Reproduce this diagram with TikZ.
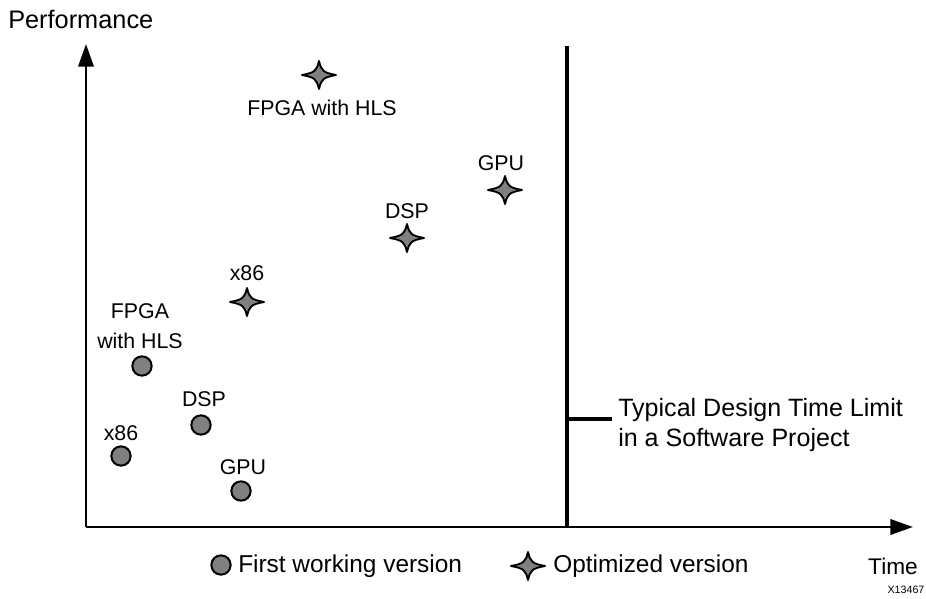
\documentclass[tikz,border=0pt]{standalone}
\usepackage{fontspec}
\setmainfont{Liberation Sans}
\usetikzlibrary{arrows.meta,positioning}

\begin{document}
\begin{tikzpicture}[
  x=0.75pt, y=-0.75pt,
  every node/.style={font=\fontsize{16}{22.5}\selectfont, inner sep=0pt},
  big/.style={font=\fontsize{18.3}{23}\selectfont},
  first/.style={circle, draw, fill=gray, line width=1.5pt, minimum size=14.5pt},
  lbl/.style={align=center},
  axis/.style={-{Triangle[length=17pt,width=11.5pt]}, line width=1.9pt},
  limit/.style={line width=2.5pt},
  optstar/.pic={
    \draw[fill=gray, line width=1.4pt, line join=round]
      (0,-14) .. controls (2.5,-4) and (4,-2.5) .. (17,0)
      .. controls (4,2.5) and (2.5,4) .. (0,14)
      .. controls (-2.5,4) and (-4,2.5) .. (-17,0)
      .. controls (-4,-2.5) and (-2.5,-4) .. cycle;
  }
]
  \useasboundingbox (0,0) rectangle (926,599);

  % Axes
  \coordinate (origin) at (86,527);
  \coordinate (ytop) at (86,44);
  \coordinate (xend) at (913,527);
  \draw[axis] (origin) -- (ytop);
  \draw[axis] (origin) -- (xend);
  \node[anchor=west, font=\fontsize{19}{23}\selectfont] (perf) at (8,19) {Performance};
  \node[font=\fontsize{17}{20}\selectfont] (time) at (893,566) {Time};
  \node[font=\fontsize{8}{9}\selectfont] (code) at (906,590) {X13467};

  % Design time limit
  \coordinate (ltop) at (567,46);
  \coordinate (lbot) at (567,527);
  \draw[limit] (ltop) -- (lbot);
  \coordinate (ltick) at (567,419);
  \node[anchor=west, align=left, font=\fontsize{18.8}{23}\selectfont] (limtxt) at (618,425)
    {Typical Design Time Limit\\in a Software Project};
  \draw[limit] (ltick) -- (612,419);

  % First working versions
  \node[first] (cFPGA) at (142,366) {};
  \node[first] (cDSP)  at (201,425) {};
  \node[first] (cX86)  at (121,456) {};
  \node[first] (cGPU)  at (241,491) {};
  \node[lbl] (tcFPGA) at (140,326) {FPGA\\with HLS};
  \node[lbl] (tcDSP)  at (204,399) {DSP};
  \node[lbl] (tcX86)  at (121,433) {x86};
  \node[lbl] (tcGPU)  at (243,467) {GPU};

  % Optimized versions
  \pic (sFPGA) at (319,75)  {optstar};
  \pic (sGPU)  at (505,190) {optstar};
  \pic (sDSP)  at (407,238) {optstar};
  \pic (sX86)  at (247,302) {optstar};
  \node[lbl] (tsFPGA) at (322,108) {FPGA with HLS};
  \node[lbl] (tsGPU)  at (501,163) {GPU};
  \node[lbl] (tsDSP)  at (407,211) {DSP};
  \node[lbl] (tsX86)  at (247,273) {x86};

  % Legend
  \node[first] (legc) at (221,565) {};
  \node[anchor=west, big] (legctxt) at (238,566) {First working version};
  \pic (legs) at (528,566) {optstar};
  \node[anchor=west, big] (legstxt) at (553,566) {Optimized version};
\end{tikzpicture}
\end{document}
